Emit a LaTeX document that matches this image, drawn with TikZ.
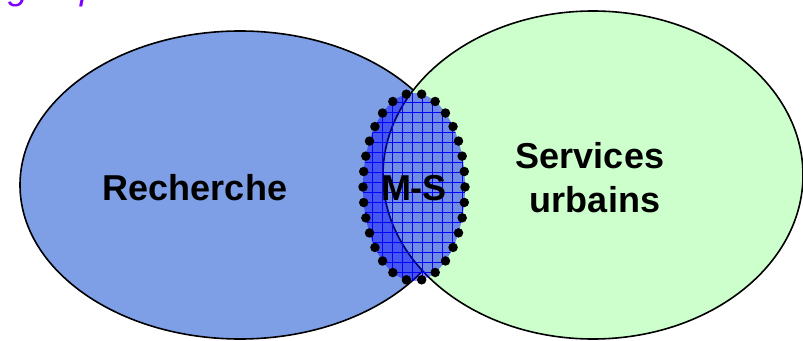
\documentclass[tikz,border=0pt]{standalone}
\usepackage{fontspec}
\setmainfont{Liberation Sans}
\usetikzlibrary{shapes.geometric}
\definecolor{rechblue}{RGB}{126,158,230}
\definecolor{servgreen}{RGB}{204,255,204}
\definecolor{topviolet}{RGB}{128,0,255}
\begin{document}
\begin{tikzpicture}[x=1pt,y=-1pt,
  setshape/.style={draw=black, line width=1.6pt, ellipse, inner sep=0pt},
  lbl/.style={font=\fontsize{36}{42}\selectfont\bfseries, anchor=base, inner sep=0pt},
  gridline/.style={blue, line width=0.8pt},
  dotline/.style={line width=9.5pt, line cap=round, dash pattern=on 0pt off 15.52pt}]
\useasboundingbox (0,0) rectangle (803,340);
\clip (0,0) rectangle (803,340);
\node[font=\fontsize{36}{40}\selectfont\itshape, text=topviolet, anchor=base west, inner sep=0pt] (titre) at (8,0) {groupe};
\node[setshape, fill=rechblue, minimum width=440pt, minimum height=308pt] (rech) at (240,185) {};
\node[setshape, fill=servgreen, minimum width=420pt, minimum height=328pt] (serv) at (593,175) {};
\coordinate (msc) at (414,187);
\begin{scope}
  \clip (msc) ellipse [x radius=51pt, y radius=94pt];
  \fill[blue, opacity=0.45] (358,88) rectangle (470,290);
  \foreach \x in {362,372,...,466} \draw[gridline] (\x,88) -- (\x,290);
  \foreach \y in {92,102,...,286} \draw[gridline] (358,\y) -- (470,\y);
\end{scope}
\draw[dotline] (msc) ellipse [x radius=51pt, y radius=94pt];
\node[lbl] (rtxt) at (195,200) {Recherche};
\node[lbl] (ms) at (414,200) {M-S};
\node[lbl] (s1) at (590,168) {Services};
\node[lbl] (s2) at (595,212) {urbains};
\end{tikzpicture}
\end{document}
